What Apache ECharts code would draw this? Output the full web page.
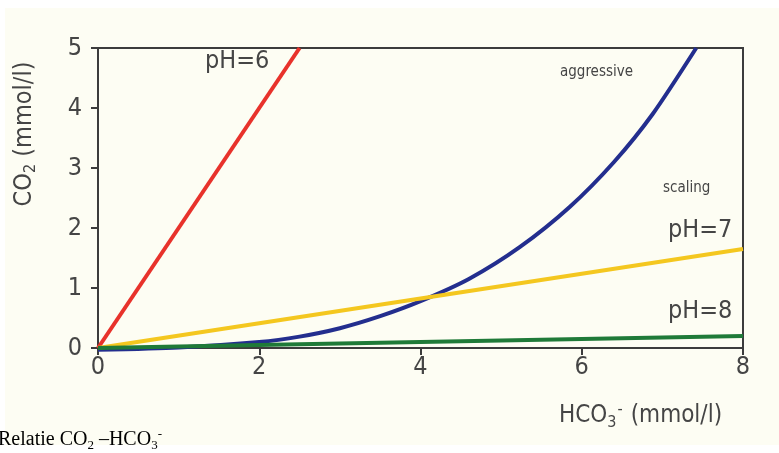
<!DOCTYPE html>
<html>
<head>
<meta charset="utf-8">
<script src="https://cdn.jsdelivr.net/npm/echarts@6/dist/echarts.min.js"></script>
<style>
  html, body { margin: 0; padding: 0; background: #ffffff; }
  #chart { width: 779px; height: 453px; }
</style>
</head>
<body>
<div id="chart"></div>
<script>
// HCO3- (mmol/l) vs CO2 (mmol/l)
var xTicks = [0, 2, 4, 6, 8];
var yTicks = [0, 1, 2, 3, 4, 5];

var ph6 = [[0, 0], [2.5, 5]];
var ph7 = [[0, 0], [8, 1.65]];
var ph8 = [[0, 0], [8, 0.2]];
// equilibrium curve between aggressive and scaling water
var equil = [[0, -0.03], [1, 0.01], [2, 0.1], [2.5, 0.19], [3, 0.33], [3.5, 0.53],
             [4, 0.78], [4.6, 1.15], [5.23, 1.68], [5.85, 2.35], [6.4, 3.1],
             [6.88, 3.9], [7.42, 5]];

var chart = echarts.init(document.getElementById('chart'));
var axisCol = '#3c3c3c';
var txtCol = '#454545';
var font = '"DejaVu Sans Condensed", "DejaVu Sans", sans-serif';

function line(name, data, color, smooth) {
    return {
        name: name, type: 'line', data: data, smooth: smooth ? 0.25 : false,
        showSymbol: false, symbol: 'none', clip: false,
        lineStyle: {color: color, width: 4}
    };
}

chart.setOption({
    backgroundColor: '#ffffff',
    animation: false,
    grid: {left: 98, right: 36, top: 48, bottom: 105, show: true,
        borderColor: axisCol, borderWidth: 2, backgroundColor: 'transparent'},
    xAxis: {
        type: 'value', min: 0, max: 8, interval: 2,
        axisLine: {show: true, lineStyle: {color: axisCol, width: 2}},
        axisTick: {show: true, length: 7, lineStyle: {color: axisCol, width: 2}},
        axisLabel: {color: txtCol, fontSize: 25, fontFamily: font, margin: 7,
            formatter: function (v) { return xTicks.indexOf(v) >= 0 ? String(v) : ''; }},
        splitLine: {show: false}
    },
    yAxis: {
        type: 'value', min: 0, max: 5, interval: 1,
        axisLine: {show: true, lineStyle: {color: axisCol, width: 2}},
        axisTick: {show: true, length: 7, lineStyle: {color: axisCol, width: 2}},
        axisLabel: {color: txtCol, fontSize: 25, fontFamily: font, margin: 16,
            formatter: function (v) { return yTicks.indexOf(v) >= 0 ? String(v) : ''; }},
        splitLine: {show: false}
    },
    graphic: [
        {type: 'rect', z: -10, silent: true, shape: {x: 5, y: 8, width: 774, height: 437},
            style: {fill: '#fdfdf3'}},
        {type: 'text', left: 205, top: 49, style: {text: 'pH=6', fill: txtCol, font: '25px ' + font}},
        {type: 'text', left: 560, top: 65, style: {text: 'aggressive', fill: txtCol, font: '15px ' + font}},
        {type: 'text', left: 663, top: 181, style: {text: 'scaling', fill: txtCol, font: '15px ' + font}},
        {type: 'text', left: 668, top: 218, style: {text: 'pH=7', fill: txtCol, font: '25px ' + font}},
        {type: 'text', left: 668, top: 299, style: {text: 'pH=8', fill: txtCol, font: '25px ' + font}},
        {type: 'text', left: 559, top: 402, style: {
            text: 'HCO{sub|3}{sup|-}(mmol/l)', fill: txtCol, font: '24px ' + font,
            rich: {sub: {fontSize: 16, fontFamily: font, fill: txtCol, padding: [14, 0, 0, 0]},
                   sup: {fontSize: 16, fontFamily: font, fill: txtCol, padding: [0, 8, 12, 1]}}
        }},
        {type: 'text', x: 24, y: 134, rotation: Math.PI / 2, style: {
            text: 'CO{sub|2} (mmol/l)', fill: txtCol, font: '25px ' + font,
            align: 'center', verticalAlign: 'middle',
            rich: {sub: {fontSize: 16, fontFamily: font, fill: txtCol, padding: [14, 0, 0, 0]}}
        }},
        {type: 'text', left: -2, top: 428, style: {
            text: 'Relatie CO{sub|2} \u2013HCO{sub|3}{sup|-}', fill: '#000', font: '20px "Liberation Serif", serif',
            rich: {sub: {fontSize: 13, fontFamily: '"Liberation Serif", serif', fill: '#000', padding: [12, 0, 0, 0]},
                   sup: {fontSize: 13, fontFamily: '"Liberation Serif", serif', fill: '#000', padding: [0, 0, 10, 0]}}
        }}
    ],
    series: [
        line('equilibrium', equil, '#232e8e', true),
        line('pH=6', ph6, '#e8322b'),
        line('pH=7', ph7, '#f4c71f'),
        line('pH=8', ph8, '#1f7a38')
    ]
});
</script>
</body>
</html>
